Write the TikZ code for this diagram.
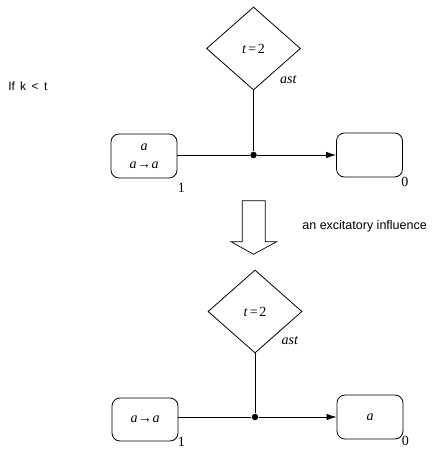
\documentclass[tikz,border=0pt]{standalone}
\usepackage{fontspec}
\setmainfont{Liberation Sans}
\newfontfamily\tms{Liberation Serif}
\usetikzlibrary{shapes.geometric,arrows.meta,calc}
\newcommand{\mthfont}{\tms\fontsize{14}{18}\selectfont}
\newcommand{\va}{\textit{a}}
\newcommand{\imp}{\va\hspace{0.5pt}→\hspace{0.5pt}\va}
\newcommand{\teq}{\textit{t}\hspace{2pt}=\hspace{1.5pt}2}
\begin{document}
\begin{tikzpicture}[x=1pt,y=-1pt,line width=0.8pt,font=\mthfont,
  state/.style={draw,rounded corners=8pt,minimum width=66pt,minimum height=44pt,inner sep=0pt,align=center},
  guard/.style={draw,diamond,aspect=1.13,minimum width=94pt,minimum height=83pt,inner sep=0pt},
  dot/.style={circle,fill,inner sep=0pt,minimum size=6.5pt},
  idx/.style={inner sep=0pt},
  plain/.style={anchor=base west,inner sep=0pt},
  flow/.style={-{Latex[length=10pt,width=6.5pt]}}]
\useasboundingbox (0,0) rectangle (436,449);

% condition
\node[plain,font=\fontsize{12}{14}\selectfont] (cond) at (8,91)
  {If\hspace{5pt}k\hspace{5.5pt}<\hspace{5.5pt}t};

% ---- before ----
\node[guard] (d1) at (253.5,48.5) {\teq};
\node[idx] (d1l) at ($(d1)+(35,31)$) {\textit{ast}};
\node[state] (l1) at (144,156) {\va\\\imp};
\node[state] (r1) at (369.5,155) {};
\node[dot] (j1) at (253.5,155) {};
\node[idx] (l1i) at ($(l1.south east)+(4,9)$) {1};
\node[idx] (r1i) at ($(r1.south east)+(2,5)$) {0};
\draw (l1.east |- j1) -- (j1);
\draw[flow] (j1) -- (r1.west |- j1);
\draw (d1.south) -- (j1);

% hollow transition arrow
\draw[line width=0.7pt] (242.3,200.7) -- (265.3,200.7) -- (265.3,241.7) -- (276.7,241.7)
  -- (253.5,254.3) -- (231,241.7) -- (242.3,241.7) -- cycle;
\node[plain,font=\fontsize{12.5}{14}\selectfont] (infl) at (302,229)
  {an excitatory influence};

% ---- after ----
\node[guard] (d2) at (255,311.5) {\teq};
\node[idx] (d2l) at ($(d2)+(35,29)$) {\textit{ast}};
\node[state,minimum height=43pt] (l2) at (145,419.5) {\imp};
\node[state] (r2) at (370,417) {\va};
\node[dot] (j2) at (255,417) {};
\node[idx] (l2i) at ($(l2.south east)+(3,0.5)$) {1};
\node[idx] (r2i) at ($(r2.south east)+(2,2)$) {0};
\draw (l2.east |- j2) -- (j2);
\draw[flow] (j2) -- (r2.west |- j2);
\draw (d2.south) -- (j2);
\end{tikzpicture}
\end{document}
